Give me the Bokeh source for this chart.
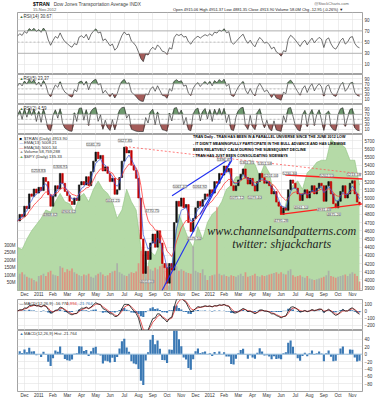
import numpy as np
from bokeh.plotting import figure
from bokeh.models import Range1d, LinearAxis, FixedTicker, ColumnDataSource, LabelSet, Span
from bokeh.layouts import column
from bokeh.embed import file_html
from bokeh.resources import INLINE
from bokeh.core.properties import value

# ---------------- data ----------------
month_labels = ["Dec", "2011", "Feb", "Mar", "Apr", "May", "Jun", "Jul", "Aug", "Sep", "Oct", "Nov",
                "Dec", "2012", "Feb", "Mar", "Apr", "May", "Jun", "Jul", "Aug", "Sep", "Oct", "Nov"]

# $TRAN closes, sampled 6 times per month (mid Nov 2010 -> 15 Nov 2012)
tran_close = [
    4720, 4800, 4770,                      # Nov 2010 (2nd half)
    4900, 4870, 5050, 5020, 5110, 5060,    # Dec 2010
    5130, 5090, 5250, 5200, 5040, 4900,    # Jan 2011
    5020, 5150, 5110, 5300, 5180, 5080,    # Feb
    5030, 4960, 4920, 5000, 4970, 5160,    # Mar
    5200, 5160, 5260, 5150, 5320, 5450,    # Apr
    5560, 5480, 5520, 5330, 5380, 5300,    # May
    5200, 5240, 5045, 5100, 5250, 5450,    # Jun
    5620, 5550, 5580, 5400, 5340, 5240,    # Jul
    5000, 4500, 4080, 4350, 4250, 4450,    # Aug
    4560, 4400, 4600, 4450, 4200, 4150,    # Sep
    3960, 4200, 4120, 4700, 4960, 4900,    # Oct
    5000, 4880, 4920, 4700, 4590, 4750,    # Nov
    4880, 4960, 4900, 4980, 5050, 5020,    # Dec 2011
    5100, 5060, 5200, 5180, 5300, 5280,    # Jan 2012
    5390, 5320, 5360, 5150, 5090, 5150,    # Feb
    5220, 5290, 5355, 5250, 5170, 5240,    # Mar
    5150, 5085, 5200, 5300, 5250, 5180,    # Apr
    5200, 5150, 5050, 5080, 4950, 4900,    # May
    4800, 4880, 4850, 5100, 5220, 5180,    # Jun
    5120, 5050, 4970, 5050, 5100, 5000,    # Jul
    5080, 5150, 5050, 5120, 5180, 5150,    # Aug
    4960, 5150, 5200, 5050, 4930, 4880,    # Sep
    4960, 5080, 5150, 5000, 5050, 5180,    # Oct
    5210, 5050, 4950, 4914,                # Nov 2012 (1st half)
]

# volume in millions, same sampling
tran_volume = [
    95, 110, 120,
    105, 90, 85, 80, 70, 60,
    95, 100, 110, 95, 120, 130,
    105, 100, 95, 160, 150, 120,
    140, 130, 145, 120, 110, 100,
    95, 105, 100, 110, 90, 85,
    100, 110, 120, 105, 95, 100,
    115, 125, 130, 180, 120, 110,
    100, 95, 110, 120, 115, 125,
    180, 260, 240, 190, 160, 140,
    130, 150, 140, 160, 170, 150,
    180, 170, 150, 140, 160, 130,
    140, 130, 120, 115, 110, 290,
    130, 120, 115, 140, 100, 70,
    95, 100, 105, 550, 110, 100,
    105, 95, 90, 100, 95, 90,
    100, 110, 95, 120, 90, 95,
    100, 110, 95, 90, 100, 95,
    100, 105, 110, 115, 120, 110,
    120, 110, 105, 130, 140, 100,
    90, 95, 100, 90, 85, 95,
    80, 75, 70, 75, 80, 85,
    90, 100, 130, 95, 90, 85,
    90, 95, 100, 105, 95, 110,
    120, 110, 95, 60,
]

# $SPY overlay, sampled 3 times per month
spy_close = [
    120, 119.5,
    122, 124, 125.5,   127, 129, 128.5,   131, 133, 131,   130.5, 128.5, 132,
    133, 131, 134,     136, 134, 133,     131, 127, 129,   134, 131, 129,
    120, 112, 119,     118, 121, 113,     110, 121, 128,   125, 122, 120,
    125, 122, 126,     128, 129, 131,     134, 135, 137,   137, 140, 141,
    140, 137, 140,     138, 133, 131,     128, 133, 135,   136, 134, 138,
    139, 140.5, 141,   141, 146, 145,     145, 144, 141,   141, 135,
]

# annotated swing highs / lows (month index, value)
high_dates = [0.98, 2.52, 4.83, 7.05, 8.95, 10.9, 12.3, 14.0, 15.6, 16.85, 17.3, 18.6, 21.2, 23.1]
high_vals = [5258.83, 5306.91, 5581.75, 5627.85, 4770.75, 5067.32, 5064.92, 5396.47, 5361.35,
             5351.58, 5201.04, 5230.36, 5202.55, 5213.18]
low_dates = [1.8, 3.1, 6.2, 8.6, 11.9, 14.9, 16.15, 18.0, 19.4, 21.0, 21.7]
low_vals = [4868.62, 4906.62, 5041.21, 4053.03, 4579.50, 5075.12, 5079.40, 4795.28, 4961.10,
            4931.43, 4875.26]

# hand-drawn trendlines (month index, price)
trend_down_x, trend_down_y = [7.05, 23.71], [5627.85, 5293]
chan_top_x, chan_top_y = [18.3, 23.71], [5282, 5233]
chan_bot_x, chan_bot_y = [17.95, 23.71], [4800, 4928]
blue_a_x, blue_a_y = [9.65, 14.55], [3871, 5485]
blue_b_x, blue_b_y = [10.35, 14.55], [5028, 5498]
blue_c_x, blue_c_y = [12.3, 14.55], [4799, 5462]

comment_lines = [
    "TRAN Daily - TRAN HAS BEEN IN A PARALLEL UNIVERSE SINCE THE JUNE 2012 LOW",
    "- IT DIDN'T MEANINGFULLY PARTICIPATE IN THE BULL ADVANCE AND HAS LIKEWISE",
    "BEEN RELATIVELY CALM DURING THE SUBSEQUENT DECLINE",
    " - TRAN HAS JUST BEEN CONSOLIDATING SIDEWAYS",
]

# ---------------- indicators ----------------
N = len(tran_close)
assert len(tran_volume) == N
bx = -0.5 + np.arange(N) / 6.0
sx = -0.5 + np.arange(len(spy_close)) / 3.0
c = np.array(tran_close, float)
o = np.concatenate([[c[0]], c[:-1]])
up = c >= o
BPD = 6.0 / 21.0  # bars per trading day of this sampling


def ema(a, n):
    k = 2.0 / (n + 1.0)
    out = np.empty(len(a))
    out[0] = a[0]
    for i in range(1, len(a)):
        out[i] = k * a[i] + (1 - k) * out[i - 1]
    return out


def rsi(a, n):
    k = min(1.0, 1.0 / n)
    d = np.diff(a, prepend=a[0])
    g = np.clip(d, 0, None)
    l = np.clip(-d, 0, None)
    ag = np.empty(len(a)); al = np.empty(len(a))
    ag[0] = g[1:30].mean(); al[0] = l[1:30].mean()
    for i in range(1, len(a)):
        ag[i] = k * g[i] + (1 - k) * ag[i - 1]
        al[i] = k * l[i] + (1 - k) * al[i - 1]
    return 100.0 * ag / np.maximum(ag + al, 1e-9)


ema13 = ema(c, 13 * BPD)
ema34 = ema(c, 34 * BPD)
# coarse bars net out intraperiod swings, so the Wilder windows are widened
rsi14 = rsi(c, 8.0)
rsi5 = rsi(c, 3.0)
rsi2 = rsi(c, 1.5)
macd = ema(c, 12 * BPD) - ema(c, 26 * BPD)
signal = ema(macd, 9 * BPD)
hist = macd - signal

# ---------------- styling helpers ----------------
FONT = "Liberation Sans"
XR = Range1d(-0.49, 23.71)
GRID = "#e2e2e2"


def style_axis(ax):
    ax.axis_line_color = None
    ax.major_tick_line_color = None
    ax.minor_tick_line_color = None
    ax.major_tick_out = 0
    ax.major_tick_in = 0
    ax.major_label_text_font_size = "4.5px"
    ax.major_label_text_font = FONT
    ax.major_label_text_color = "#333333"
    ax.major_label_standoff = 2


def panel(h, yr, ticks, bottom=0, xaxis=False):
    p = figure(width=377, height=h, x_range=XR, y_range=yr, toolbar_location=None,
               output_backend="svg", min_border_left=17, min_border_right=14,
               min_border_top=0, min_border_bottom=bottom,
               x_axis_location="below" if xaxis else None, y_axis_location="right")
    p.outline_line_color = "#8c8c8c"
    p.outline_line_width = 0.8
    p.xgrid.ticker = FixedTicker(ticks=list(range(24)))
    p.ygrid.ticker = FixedTicker(ticks=ticks)
    p.xgrid.grid_line_color = GRID
    p.ygrid.grid_line_color = GRID
    p.xgrid.grid_line_width = 0.6
    p.ygrid.grid_line_width = 0.6
    ax = p.yaxis[0]
    ax.ticker = FixedTicker(ticks=ticks)
    style_axis(ax)
    if xaxis:
        xa = p.xaxis[0]
        xa.ticker = FixedTicker(ticks=list(range(24)))
        xa.major_label_overrides = {i: m for i, m in enumerate(month_labels)}
        style_axis(xa)
        xa.major_label_standoff = 1
    return p


def ypos(rng, frame_h, px):
    """value at `px` pixels below the top of a frame"""
    return rng.end - px * (rng.end - rng.start) / frame_h


def txt(p, x, y, s, size="4.5px", color="#222222", style="normal", align="left",
        font=FONT, y_range_name="default"):
    p.text(x=[x], y=[y], text=[s], text_font=value(font), text_font_size=value(size),
           text_color=color, text_font_style=style, text_align=align,
           text_baseline="middle", y_range_name=y_range_name)


def xpx(px):
    return (px - 24.0) / 14.3


# ---------------- title strip ----------------
pt = figure(width=377, height=12, x_range=Range1d(0, 377), y_range=Range1d(12, 0),
            toolbar_location=None, output_backend="svg", min_border=0,
            x_axis_location=None, y_axis_location=None)
pt.outline_line_color = None
pt.grid.visible = False
txt(pt, 17, 3.5, "$TRAN", size="5px", color="#000000", style="bold")
txt(pt, 39.5, 3.5, "Dow Jones Transportation Average  INDX", size="4.8px", color="#444444")
txt(pt, 17, 9.3, "15-Nov-2012", size="4px", color="#555555")
txt(pt, 362, 2.8, "@StockCharts.com", size="4px", color="#666666", align="right")
txt(pt, 362, 8.5, "Open 4915.06  High 4951.37  Low 4881.35  Close 4913.90  Volume 58.0M  Chg -12.95 (-0.26%) \u25bc",
    size="4px", color="#222222", align="right")


# ---------------- RSI panels ----------------
def rsi_panel(h, yr, series, label):
    p = panel(h, yr, [10, 30, 50, 70, 90])
    p.varea(x=bx, y1=70, y2=np.maximum(series, 70), fill_color="#5f8f5f", fill_alpha=0.9)
    p.varea(x=bx, y1=np.minimum(series, 30), y2=30, fill_color="#9a4a48", fill_alpha=0.9)
    p.add_layout(Span(location=70, dimension="width", line_color="#9a9a9a", line_width=0.7))
    p.add_layout(Span(location=30, dimension="width", line_color="#9a9a9a", line_width=0.7))
    p.add_layout(Span(location=50, dimension="width", line_color="#9a9a9a", line_width=0.6,
                      line_dash="2 2"))
    p.line(bx, series, line_color="#333333", line_width=0.7)
    txt(p, xpx(19), ypos(yr, h, 3.5), "\u25b2", size="4px", color="#3c6e3c")
    txt(p, xpx(23), ypos(yr, h, 3.5), label, size="4.5px", color="#333333")
    return p


r14_yr = Range1d(-8, 103)
p14 = rsi_panel(62, r14_yr, rsi14, "RSI(14) 30.67")
r5_yr = Range1d(-10, 106)
p5 = rsi_panel(30, r5_yr, rsi5, "RSI(5) 23.37")
r2_yr = Range1d(-12, 110)
p2 = rsi_panel(30, r2_yr, rsi2, "RSI(2) 4.59")

# ---------------- main price panel ----------------
MH = 158
main_yr = Range1d(3871, 5775)
pm = panel(165, main_yr, list(range(3900, 5801, 100)), bottom=7, xaxis=True)
pm.extra_y_ranges = {"spy": Range1d(109.6, 147.2), "vol": Range1d(0, 1030)}
vax = LinearAxis(y_range_name="vol", ticker=FixedTicker(ticks=[50, 100, 150, 200, 250, 300]),
                 major_label_overrides={50: "50M", 100: "100M", 150: "150M", 200: "200M",
                                        250: "250M", 300: "300M"})
style_axis(vax)
pm.add_layout(vax, "left")

pm.varea(x=sx, y1=100, y2=spy_close, y_range_name="spy", fill_color="#b1d8a2", fill_alpha=0.95)
pm.line(sx, spy_close, y_range_name="spy", line_color="#8fc27f", line_width=0.6)

vcol = ["#a8a8a8" if u else "#e2887c" for u in up]
pm.vbar(x=bx, width=0.12, top=tran_volume, bottom=0, y_range_name="vol",
        fill_color=vcol, line_color=None, fill_alpha=0.85)

pm.line(trend_down_x, trend_down_y, line_color="#ff5a5a", line_width=0.8, line_dash="2 2")

ccol = ["#111111" if u else "#c40000" for u in up]
pm.vbar(x=bx, width=0.11, top=np.maximum(o, c), bottom=np.minimum(o, c),
        fill_color=ccol, line_color=ccol, line_width=0.6)
pm.line(bx, ema34, line_color="#ff3b3b", line_width=0.8)
pm.line(bx, ema13, line_color="#2f4fd8", line_width=0.7)

pm.line(chan_top_x, chan_top_y, line_color="#ff2020", line_width=1.5)
pm.line(chan_bot_x, chan_bot_y, line_color="#ff2020", line_width=1.3)
for lx, ly in ((blue_a_x, blue_a_y), (blue_b_x, blue_b_y), (blue_c_x, blue_c_y)):
    pm.line(lx, ly, line_color="#1f2ff0", line_width=1.1)

pp = (main_yr.end - main_yr.start) / MH  # price per pixel
ann = ColumnDataSource(dict(
    x=list(high_dates) + list(low_dates),
    y=[v + 6 * pp for v in high_vals] + [v - 6 * pp for v in low_vals],
    t=["%.2f" % v for v in high_vals] + ["%.2f" % v for v in low_vals],
))
pm.add_layout(LabelSet(x="x", y="y", text="t", source=ann, text_font=value(FONT),
                       text_font_size="3.8px", text_color="#444444", text_align="center",
                       text_baseline="middle", background_fill_color="white",
                       background_fill_alpha=0.85, border_line_color="#9a9a9a",
                       border_line_width=0.5))

# legend
leg = [("\u25a0", "#000000", "$TRAN (Daily) 4913.90"),
       ("\u2014", "#2f4fd8", "EMA(13) 5008.21"),
       ("\u2014", "#ff3b3b", "EMA(34) 5001.34"),
       ("\u25b2", "#999999", "Volume 58,759,288"),
       ("\u25b2", "#6aa95a", "$SPY (Daily) 135.33")]
for k, (ic, col, s) in enumerate(leg):
    yy = ypos(main_yr, MH, 4 + 4.5 * k)
    txt(pm, xpx(19), yy, ic, size="4px", color=col)
    txt(pm, xpx(23.5), yy, s, size="4.2px", color="#333333")

for k, s in enumerate(comment_lines):
    txt(pm, xpx(193), ypos(main_yr, MH, 3 + 6.2 * k), s, size="3.7px", color="#000000",
        style="bold")

txt(pm, xpx(282), ypos(main_yr, MH, 98), "www.channelsandpatterns.com", size="12px",
    color="#1e1e1e", style="italic", align="center", font="Liberation Serif")
txt(pm, xpx(282), ypos(main_yr, MH, 111), "twitter: shjackcharts", size="12px",
    color="#1e1e1e", style="italic", align="center", font="Liberation Serif")

# ---------------- MACD panel ----------------
macd_yr = Range1d(-270, 160)
pmacd = panel(31, macd_yr, [-200, -100, 0, 100])
pmacd.vbar(x=bx, width=0.15, top=hist, bottom=0, fill_color="#3a78b4", line_color=None)
pmacd.line(bx, signal, line_color="#e03030", line_width=0.8)
pmacd.line(bx, macd, line_color="#111111", line_width=0.8)
txt(pmacd, xpx(19), ypos(macd_yr, 31, 3.5), "\u2014", size="4px", color="#111111")
txt(pmacd, xpx(23.5), ypos(macd_yr, 31, 3.5), "MACD(12,26,9) -16.770,", size="4.2px", color="#333333")
txt(pmacd, xpx(66), ypos(macd_yr, 31, 3.5), "4.994,", size="4.2px", color="#e03030")
txt(pmacd, xpx(78), ypos(macd_yr, 31, 3.5), "-21.764", size="4.2px", color="#3a78b4")

# ---------------- MACD histogram panel ----------------
hist_yr = Range1d(-101, 64)
ph = panel(70, hist_yr, [-80, -60, -40, -20, 0, 20, 40], bottom=8, xaxis=True)
ph.add_layout(Span(location=0, dimension="width", line_color="#9ec3e0", line_width=1))
ph.vbar(x=bx, width=0.15, top=hist, bottom=0, fill_color="#3a78b4", line_color=None)
txt(ph, xpx(19), ypos(hist_yr, 62, 3.5), "\u25b2", size="4px", color="#3a78b4")
txt(ph, xpx(23.5), ypos(hist_yr, 62, 3.5), "MACD(12,26,9) Hist -21.764", size="4.2px", color="#333333")

layout = column(pt, p14, p5, p2, pm, pmacd, ph, spacing=0)
open("out.html", "w").write(file_html(layout, INLINE))
